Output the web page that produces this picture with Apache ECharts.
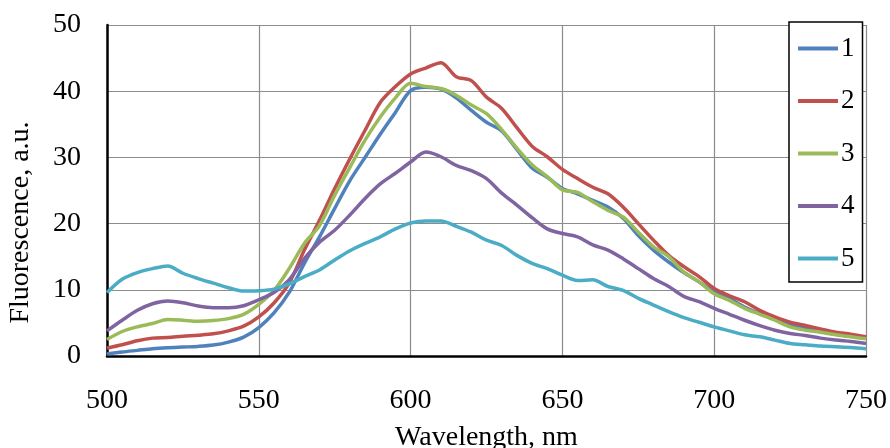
<!DOCTYPE html>
<html>
<head>
<meta charset="utf-8">
<script src="https://cdn.jsdelivr.net/npm/echarts@6/dist/echarts.min.js"></script>
<style>html,body{margin:0;padding:0;background:#fff}#c{width:890px;height:448px}</style>
</head>
<body>
<div id="c"></div>
<script>
const wavelengths = [500,505,510,515,520,525,530,535,540,545,550,555,560,565,570,575,580,585,590,595,600,605,610,615,620,625,630,635,640,645,650,655,660,665,670,675,680,685,690,695,700,705,710,715,720,725,730,735,740,745,750];
const seriesNames = ['1','2','3','4','5'];
const s1 = [0.3,0.6,0.85,1.1,1.25,1.35,1.45,1.65,2.1,2.85,4.3,6.5,9.6,14,18,22.3,26.5,30,33.5,36.8,40.1,40.6,40.3,39,37.1,35.3,34,31.2,28.4,27,25.3,24.5,23.5,22.5,20.8,18.2,16,14.2,12.6,11.2,9.7,8.7,7.4,6.4,5.6,4.7,4.2,3.7,3.3,3.0,2.7];
const s2 = [1.2,1.7,2.3,2.7,2.8,3.0,3.15,3.35,3.8,4.5,5.9,8.0,11,16,20.5,25.3,29.8,34.1,38.3,40.7,42.6,43.5,44.3,42.2,41.6,39.1,37.4,34.5,31.7,30.1,28.2,26.8,25.5,24.5,22.5,20,17.5,15.2,13.5,12,10.2,9.1,8.2,6.9,5.9,5.1,4.6,4.1,3.6,3.3,2.9];
const s3 = [2.5,3.7,4.4,4.9,5.5,5.4,5.25,5.35,5.65,6.3,7.8,9.9,13.2,17,19.7,24.3,28.5,32.6,36.1,39,41.2,40.7,40.4,39.4,37.9,36.6,34.2,31.4,28.9,27.1,25.1,24.7,23.3,22,21,18.7,16.5,15,12.7,11.2,9.4,8.4,7.2,6.3,5.4,4.4,3.9,3.6,3.2,2.9,2.6];
const s4 = [3.8,5.4,6.9,7.9,8.3,8.05,7.55,7.3,7.3,7.6,8.5,9.6,11.5,14.7,17.2,19,21.3,23.8,26,27.6,29.3,30.8,30.1,28.8,28,26.8,24.6,22.8,20.9,19.2,18.5,18,16.8,16,14.7,13.2,11.7,10.5,9,8.2,7.2,6.3,5.4,4.6,3.9,3.4,3.1,2.7,2.4,2.2,1.9];
const s5 = [9.6,11.6,12.6,13.2,13.6,12.5,11.7,11,10.3,9.8,9.85,10.1,10.9,12,13,14.5,15.9,17,18,19.2,20.1,20.4,20.4,19.6,18.7,17.5,16.7,15.2,14,13.2,12.2,11.4,11.5,10.5,9.9,8.7,7.7,6.7,5.8,5.1,4.4,3.8,3.2,2.9,2.4,1.9,1.7,1.5,1.4,1.3,1.1];
const xTicks = [500,550,600,650,700,750];
const yTicks = [0,10,20,30,40,50];
const colors = ['#4F81BD','#C0504D','#9BBB59','#8064A2','#4BACC6'];

const allValues = [s1,s2,s3,s4,s5];
const font = 'Liberation Serif';
const chart = echarts.init(document.getElementById('c'), null, {renderer:'canvas'});
chart.setOption({
  animation:false,
  color: colors,
  grid:{left:107, right:24, top:25, bottom:92, containLabel:false, outerBoundsMode:'none'},
  legend:{
    orient:'vertical', left:789, top:22,
    padding:[13,8,10,9],
    borderColor:'#000', borderWidth:1.5,
    backgroundColor:'#fff',
    itemWidth:40, itemHeight:4, itemGap:25.5, itemStyle:{borderWidth:0},
    icon:'rect',
    textStyle:{fontFamily:font, fontSize:27, color:'#000', lineHeight:26, padding:[0,0,0,-2]},
    data: seriesNames
  },
  xAxis:{
    type:'value', min:xTicks[0], max:xTicks[xTicks.length-1], interval:50,
    name:'Wavelength, nm', nameLocation:'middle', nameGap:68,
    nameTextStyle:{fontFamily:font, fontSize:28, color:'#000'},
    axisLine:{lineStyle:{color:'#000', width:2.5}},
    axisTick:{show:false},
    axisLabel:{fontFamily:font, fontSize:28, color:'#000', margin:31},
    splitLine:{show:true, lineStyle:{color:'#8c8c8c', width:1.2}}
  },
  yAxis:{
    type:'value', min:yTicks[0], max:yTicks[yTicks.length-1], interval:10,
    name:'Fluorescence, a.u.', nameLocation:'middle', nameGap:72,
    nameTextStyle:{fontFamily:font, fontSize:28, color:'#000', padding:[0,64,0,0]},
    axisLine:{show:true, lineStyle:{color:'#000', width:2.5}},
    axisTick:{show:false},
    axisLabel:{fontFamily:font, fontSize:28, color:'#000', margin:26},
    splitLine:{show:true, lineStyle:{color:'#8c8c8c', width:1.2}}
  },
  series: seriesNames.map((n,i)=>({
    name:n, type:'line', smooth:0.3, showSymbol:false, symbol:'none',
    lineStyle:{width:3.5, color:colors[i]},
    data: wavelengths.map((w,j)=>[w, allValues[i][j]])
  }))
});
</script>
</body>
</html>
